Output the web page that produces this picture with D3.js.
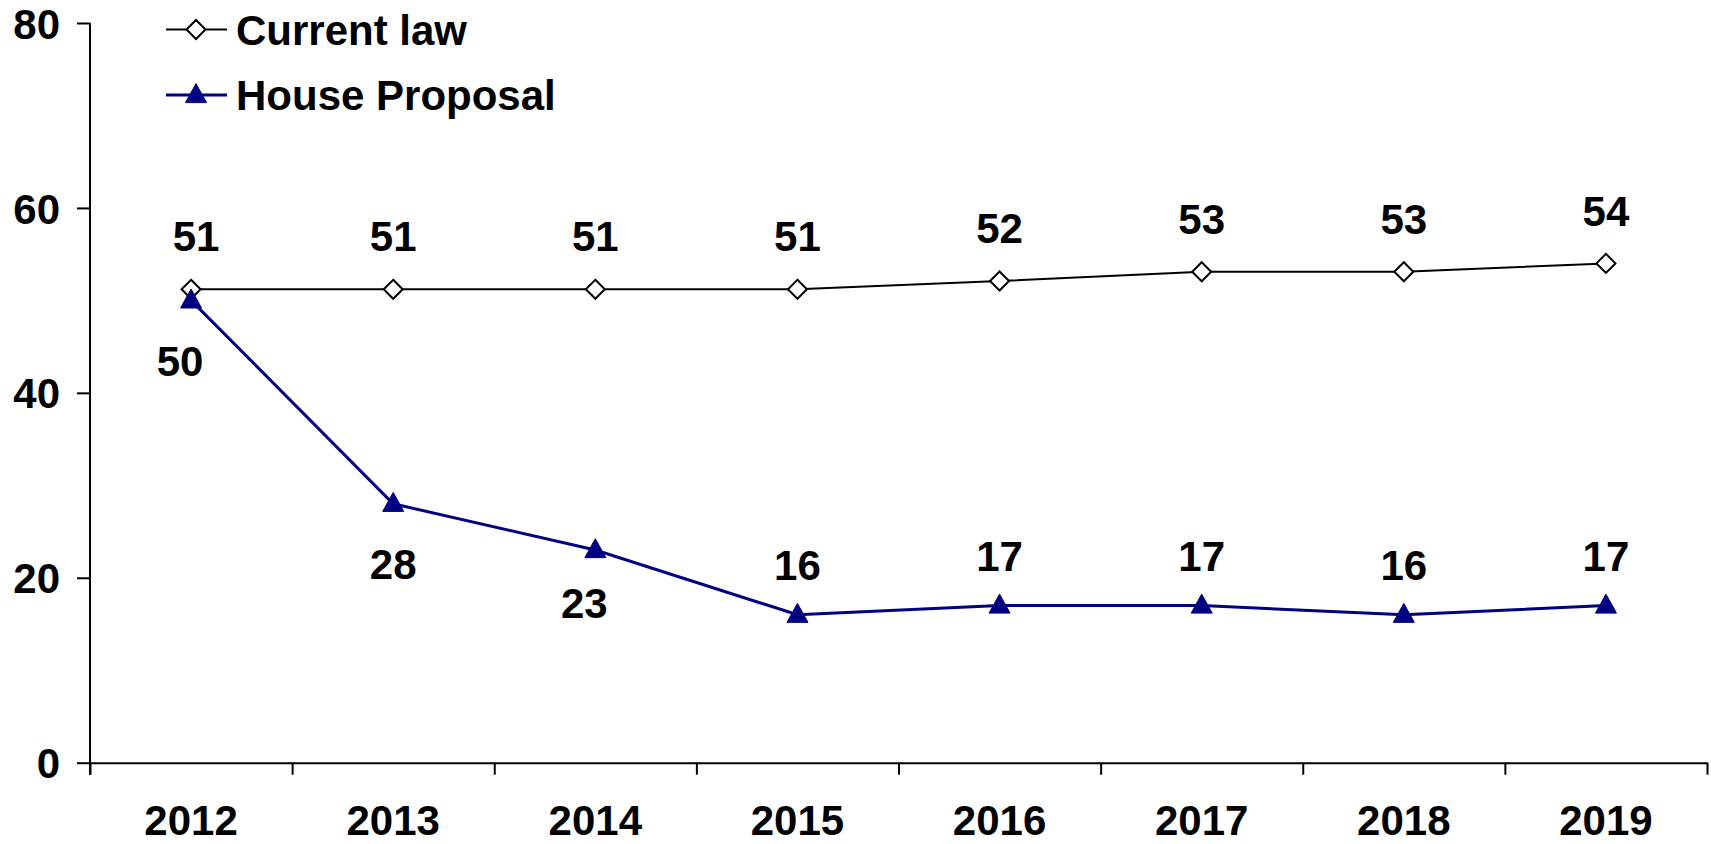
<!DOCTYPE html>
<html>
<head>
<meta charset="utf-8">
<script src="https://cdn.jsdelivr.net/npm/d3@7"></script>
<style>
  html, body { margin: 0; padding: 0; background: #fff; }
  svg { display: block; }
  text { font-family: "Liberation Sans", Arial, sans-serif; font-weight: bold; fill: #000; }
</style>
</head>
<body>
<svg id="chart" width="1711" height="844"></svg>
<script>
const years = ["2012", "2013", "2014", "2015", "2016", "2017", "2018", "2019"];
const currentLaw = [51.2, 51.2, 51.2, 51.2, 52.1, 53.1, 53.1, 54.0];
const houseProposal = [50, 28, 23, 16, 17, 17, 16, 17];
const yTicks = [0, 20, 40, 60, 80];
const seriesNames = ["Current law", "House Proposal"];
const houseLabelSide = ["below", "below", "below", "above", "above", "above", "above", "above"];

(function () {
const plotLeft = 90, plotRight = 1707, plotTop = 23, plotBottom = 762.7;
const FS = 42;
const navy = "#000080";

const svg = d3.select("#chart");

const x = d3.scaleBand().domain(years).range([plotLeft, plotRight]).padding(0);
const xb = d3.scaleLinear().domain([0, years.length]).range([plotLeft, plotRight]);
const y = d3.scaleLinear().domain([0, 80]).range([plotBottom, plotTop]);

// Y axis
const yAxis = svg.append("g")
  .attr("transform", `translate(${plotLeft},0)`)
  .call(d3.axisLeft(y).tickValues(yTicks).tickSize(13).tickSizeOuter(0).tickPadding(17));
yAxis.select(".domain").remove();
yAxis.append("line").attr("x1", 0).attr("x2", 0).attr("y1", y(80)).attr("y2", plotBottom + 12)
  .attr("stroke", "#000").attr("stroke-width", 2);
yAxis.selectAll(".tick line").attr("stroke", "#000").attr("stroke-width", 2);
yAxis.selectAll(".tick text").attr("font-size", FS).attr("dy", "0.36em")
  .style("font-family", "'Liberation Sans', Arial, sans-serif").style("font-weight", "bold");

// X axis tick marks at band boundaries
const xTickAxis = svg.append("g")
  .attr("transform", `translate(0,${plotBottom})`)
  .call(d3.axisBottom(xb).tickValues(d3.range(years.length + 1)).tickFormat("").tickSize(12).tickSizeOuter(0));
xTickAxis.select(".domain").attr("stroke", "#000").attr("stroke-width", 2);
xTickAxis.selectAll(".tick line").attr("stroke", "#000").attr("stroke-width", 2);

// X labels
const xLab = svg.append("g")
  .attr("transform", `translate(0,${plotBottom})`)
  .call(d3.axisBottom(x).tickSize(0).tickPadding(42));
xLab.select(".domain").remove();
xLab.selectAll(".tick text").attr("font-size", FS)
  .style("font-family", "'Liberation Sans', Arial, sans-serif").style("font-weight", "bold");

const cx = d => x(d) + x.bandwidth() / 2;
const line = d3.line().x((d, i) => cx(years[i])).y(d => y(d));

// Current law line
svg.append("path").datum(currentLaw)
  .attr("d", line).attr("fill", "none").attr("stroke", "#000").attr("stroke-width", 2);

// House line
svg.append("path").datum(houseProposal)
  .attr("d", line).attr("fill", "none").attr("stroke", navy).attr("stroke-width", 3);

const diamond = (s) => `M0,${-s}L${s},0L0,${s}L${-s},0Z`;
const triangle = (w, h) => `M0,${-h * 0.6}L${w / 2},${h * 0.4}L${-w / 2},${h * 0.4}Z`;

// Current law markers
svg.append("g").selectAll("path").data(currentLaw).join("path")
  .attr("transform", (d, i) => `translate(${cx(years[i])},${y(d)})`)
  .attr("d", diamond(9.5)).attr("fill", "#fff").attr("stroke", "#000").attr("stroke-width", 2);

// House markers
svg.append("g").selectAll("path").data(houseProposal).join("path")
  .attr("transform", (d, i) => `translate(${cx(years[i])},${y(d)})`)
  .attr("d", triangle(21, 19)).attr("fill", navy).attr("stroke", navy).attr("stroke-width", 1);

// Current law labels
svg.append("g").selectAll("text").data(currentLaw).join("text")
  .attr("x", (d, i) => cx(years[i]) + (i === 0 ? 5 : 0))
  .attr("y", d => y(d) - 53)
  .attr("dy", "0.36em").attr("text-anchor", "middle").attr("font-size", FS)
  .text(d => d3.format(".0f")(d));

// House labels
svg.append("g").selectAll("text").data(houseProposal).join("text")
  .attr("x", (d, i) => cx(years[i]) + ((i === 0 || i === 2) ? -11 : 0))
  .attr("y", (d, i) => y(d) + (houseLabelSide[i] === "below" ? (i === 2 ? 53 : 60) : -50))
  .attr("dy", "0.36em").attr("text-anchor", "middle").attr("font-size", FS)
  .text(d => d3.format(".0f")(d));

// Legend
const legend = svg.append("g");
const legY = [29.5, 95];
seriesNames.forEach((name, i) => {
  const g = legend.append("g").attr("transform", `translate(0,${legY[i]})`);
  g.append("line").attr("x1", 166).attr("x2", 227).attr("y1", 0).attr("y2", 0)
    .attr("stroke", i === 0 ? "#000" : navy).attr("stroke-width", i === 0 ? 2 : 3);
  if (i === 0) {
    g.append("path").attr("transform", "translate(196,0)").attr("d", diamond(9.5))
      .attr("fill", "#fff").attr("stroke", "#000").attr("stroke-width", 2);
  } else {
    g.append("path").attr("transform", "translate(196,0)").attr("d", triangle(21, 19))
      .attr("fill", navy).attr("stroke", navy).attr("stroke-width", 1);
  }
  g.append("text").attr("x", 236).attr("y", 0).attr("dy", "0.36em").attr("font-size", FS).text(name);
});
})();
</script>
</body>
</html>
